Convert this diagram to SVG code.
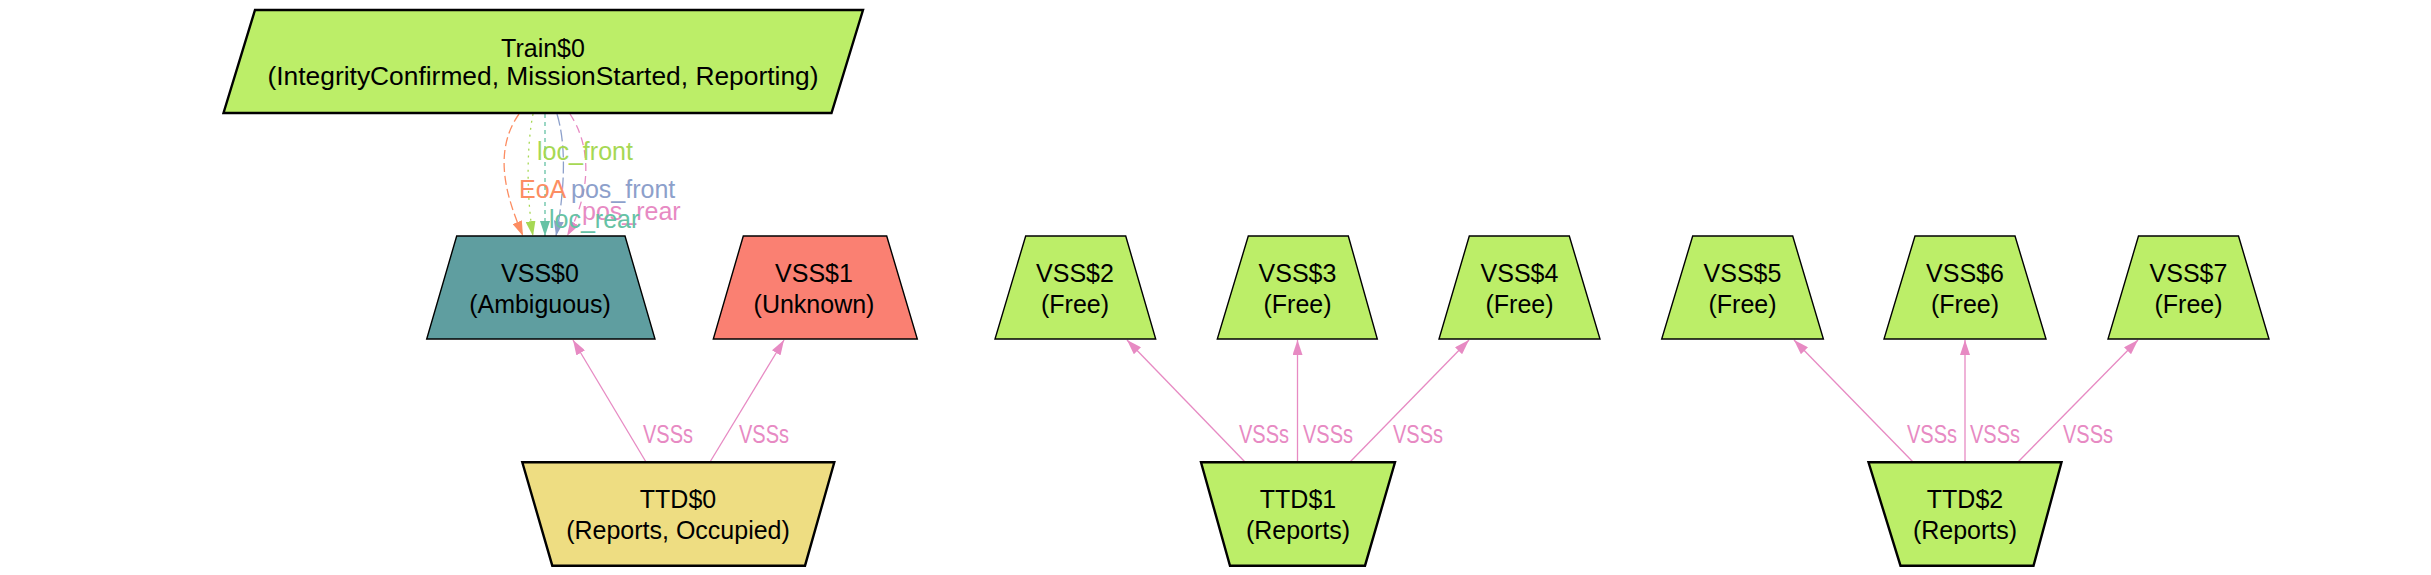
<svg xmlns="http://www.w3.org/2000/svg" width="2431" height="575" viewBox="0 0 2431 575">
<style>
  text { font-family: "Liberation Sans", Arial, sans-serif; font-size: 25px; }
  .nl { text-anchor: middle; fill: #000; }
  .node-thick { stroke: #000; stroke-width: 2.4; }
  .node-thin { stroke: #000; stroke-width: 1.4; }
  .green { fill: #bcee68; }
  .teal { fill: #5f9ea0; }
  .salmon { fill: #fa8072; }
  .khaki { fill: #eedd82; }
  .vsse { stroke: #e78ac3; stroke-width: 1.3; fill: none; }
  .el { fill: #e78ac3; }
  .te { fill: none; stroke-width: 1.3; }
</style>
<defs>
  <marker id="ah-pink" markerUnits="userSpaceOnUse" viewBox="0 0 15 10" refX="15" refY="5" markerWidth="15" markerHeight="10" orient="auto"><path d="M0,0 L15,5 L0,10 z" fill="#e78ac3"/></marker>
  <marker id="ah-orange" markerUnits="userSpaceOnUse" viewBox="0 0 15 10" refX="15" refY="5" markerWidth="15" markerHeight="10" orient="auto"><path d="M0,0 L15,5 L0,10 z" fill="#fc8d62"/></marker>
  <marker id="ah-green" markerUnits="userSpaceOnUse" viewBox="0 0 15 10" refX="15" refY="5" markerWidth="15" markerHeight="10" orient="auto"><path d="M0,0 L15,5 L0,10 z" fill="#a6d854"/></marker>
  <marker id="ah-teal" markerUnits="userSpaceOnUse" viewBox="0 0 15 10" refX="15" refY="5" markerWidth="15" markerHeight="10" orient="auto"><path d="M0,0 L15,5 L0,10 z" fill="#66c2a5"/></marker>
  <marker id="ah-blue" markerUnits="userSpaceOnUse" viewBox="0 0 15 10" refX="15" refY="5" markerWidth="15" markerHeight="10" orient="auto"><path d="M0,0 L15,5 L0,10 z" fill="#8da0cb"/></marker>
</defs>
<rect width="2431" height="575" fill="#ffffff"/>

<g id="connectors">
  <path class="te" d="M519,114 C490,155 510,205 523,236" stroke="#fc8d62" stroke-dasharray="9,4" marker-end="url(#ah-orange)"/>
  <path class="te" d="M533,114 C526,150 527,200 533,236" stroke="#a6d854" stroke-dasharray="2,5" marker-end="url(#ah-green)"/>
  <path class="te" d="M545,114 L545,236" stroke="#66c2a5" stroke-dasharray="4,4" marker-end="url(#ah-teal)"/>
  <path class="te" d="M557,114 C568,150 563,200 556,236" stroke="#8da0cb" stroke-dasharray="12,4" marker-end="url(#ah-blue)"/>
  <path class="te" d="M570,114 C597,155 585,205 567,236" stroke="#e78ac3" stroke-dasharray="8,5" marker-end="url(#ah-pink)"/>
  <text x="537" y="160" fill="#a6d854">loc_front</text>
  <text x="519" y="198" fill="#fc8d62">EoA</text>
  <text x="571" y="198" fill="#8da0cb">pos_front</text>
  <text x="582" y="220" fill="#e78ac3">pos_rear</text>
  <text x="549" y="228" fill="#66c2a5">loc_rear</text>

  <line class="vsse" x1="646" y1="462" x2="573" y2="340" marker-end="url(#ah-pink)"/>
  <line class="vsse" x1="710" y1="462" x2="784" y2="340" marker-end="url(#ah-pink)"/>
  <line class="vsse" x1="1245" y1="462" x2="1127" y2="340" marker-end="url(#ah-pink)"/>
  <line class="vsse" x1="1297.5" y1="462" x2="1297.5" y2="340" marker-end="url(#ah-pink)"/>
  <line class="vsse" x1="1350" y1="462" x2="1469" y2="340" marker-end="url(#ah-pink)"/>
  <line class="vsse" x1="1913" y1="462" x2="1794" y2="340" marker-end="url(#ah-pink)"/>
  <line class="vsse" x1="1965" y1="462" x2="1965" y2="340" marker-end="url(#ah-pink)"/>
  <line class="vsse" x1="2018" y1="462" x2="2138" y2="340" marker-end="url(#ah-pink)"/>
  <text class="el" x="643" y="443" textLength="50" lengthAdjust="spacingAndGlyphs">VSSs</text>
  <text class="el" x="739" y="443" textLength="50" lengthAdjust="spacingAndGlyphs">VSSs</text>
  <text class="el" x="1239" y="443" textLength="50" lengthAdjust="spacingAndGlyphs">VSSs</text>
  <text class="el" x="1303" y="443" textLength="50" lengthAdjust="spacingAndGlyphs">VSSs</text>
  <text class="el" x="1393" y="443" textLength="50" lengthAdjust="spacingAndGlyphs">VSSs</text>
  <text class="el" x="1907" y="443" textLength="50" lengthAdjust="spacingAndGlyphs">VSSs</text>
  <text class="el" x="1970" y="443" textLength="50" lengthAdjust="spacingAndGlyphs">VSSs</text>
  <text class="el" x="2063" y="443" textLength="50" lengthAdjust="spacingAndGlyphs">VSSs</text>
</g>

<g id="Train0">
  <polygon class="node-thick green" points="255,10 863,10 831.5,113 223.5,113"/>
  <text class="nl" x="543" y="56.5">Train$0</text>
  <text class="nl" x="543" y="85" textLength="551" lengthAdjust="spacingAndGlyphs">(IntegrityConfirmed, MissionStarted, Reporting)</text>
</g>

<g id="VSS0">
  <polygon class="node-thin teal" points="456.7,236 625,236 655,339 426.7,339"/>
  <text class="nl" x="540" y="282">VSS$0</text>
  <text class="nl" x="540" y="313">(Ambiguous)</text>
</g>
<g id="VSS1">
  <polygon class="node-thin salmon" points="743.3,236 886.7,236 917.3,339 713.3,339"/>
  <text class="nl" x="814" y="282">VSS$1</text>
  <text class="nl" x="814" y="313">(Unknown)</text>
</g>
<g id="VSS2">
  <polygon class="node-thin green" points="1025.7,236 1125.7,236 1155.7,339 995,339"/>
  <text class="nl" x="1075" y="282">VSS$2</text>
  <text class="nl" x="1075" y="313">(Free)</text>
</g>
<g id="VSS3">
  <polygon class="node-thin green" points="1248.3,236 1348.3,236 1377.3,339 1217.3,339"/>
  <text class="nl" x="1297.5" y="282">VSS$3</text>
  <text class="nl" x="1297.5" y="313">(Free)</text>
</g>
<g id="VSS4">
  <polygon class="node-thin green" points="1469.3,236 1569.3,236 1600,339 1439,339"/>
  <text class="nl" x="1519.5" y="282">VSS$4</text>
  <text class="nl" x="1519.5" y="313">(Free)</text>
</g>
<g id="VSS5">
  <polygon class="node-thin green" points="1692.7,236 1792.7,236 1823.4,339 1661.7,339"/>
  <text class="nl" x="1742.5" y="282">VSS$5</text>
  <text class="nl" x="1742.5" y="313">(Free)</text>
</g>
<g id="VSS6">
  <polygon class="node-thin green" points="1915,236 2015,236 2046,339 1884,339"/>
  <text class="nl" x="1965" y="282">VSS$6</text>
  <text class="nl" x="1965" y="313">(Free)</text>
</g>
<g id="VSS7">
  <polygon class="node-thin green" points="2138.5,236 2238.5,236 2269,339 2108,339"/>
  <text class="nl" x="2188.5" y="282">VSS$7</text>
  <text class="nl" x="2188.5" y="313">(Free)</text>
</g>

<g id="TTD0">
  <polygon class="node-thick khaki" points="522.3,462.3 834.3,462.3 805,565.7 552.3,565.7"/>
  <text class="nl" x="678" y="507.5">TTD$0</text>
  <text class="nl" x="678" y="538.5">(Reports, Occupied)</text>
</g>
<g id="TTD1">
  <polygon class="node-thick green" points="1201,462.3 1395,462.3 1365,565.7 1230,565.7"/>
  <text class="nl" x="1298" y="507.5">TTD$1</text>
  <text class="nl" x="1298" y="538.5">(Reports)</text>
</g>
<g id="TTD2">
  <polygon class="node-thick green" points="1868.5,462.3 2061.5,462.3 2033.5,565.7 1900.5,565.7"/>
  <text class="nl" x="1965" y="507.5">TTD$2</text>
  <text class="nl" x="1965" y="538.5">(Reports)</text>
</g>
</svg>
